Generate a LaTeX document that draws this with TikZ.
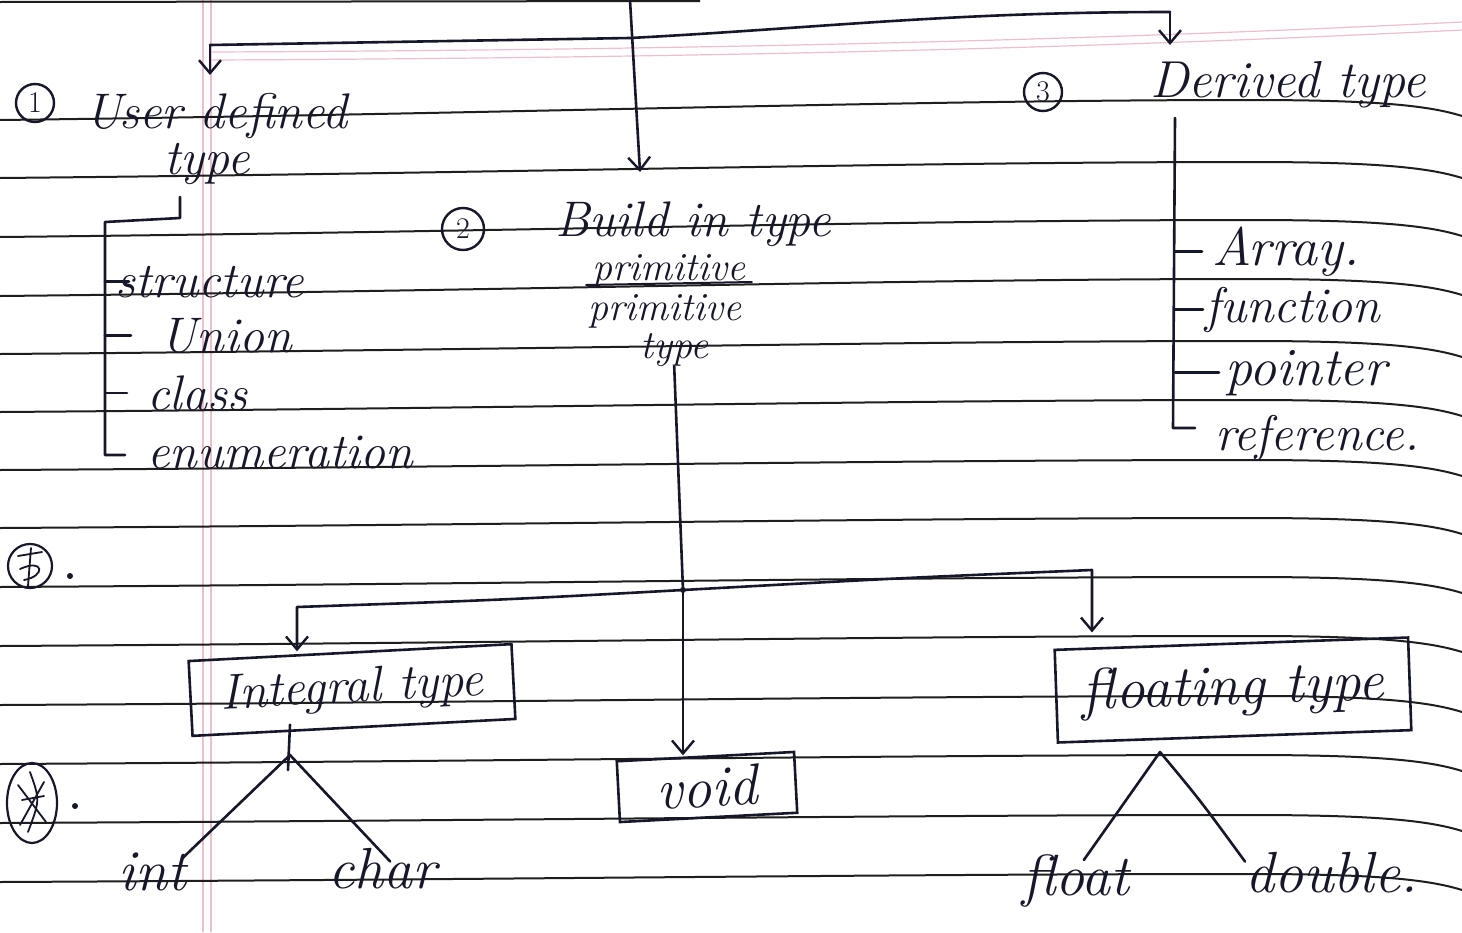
\documentclass[tikz,border=0pt]{standalone}
\usepackage{fontspec}
\usetikzlibrary{arrows.meta,calc}
\definecolor{ink}{HTML}{17172A}
\definecolor{rulecol}{HTML}{1E1E1E}
\definecolor{margin}{HTML}{EDBFCA}
\tikzset{
  hand/.style={font=\fontsize{50}{56}\selectfont\itshape, text=ink, inner sep=0pt},
  bighand/.style={hand, font=\fontsize{58}{64}\selectfont\itshape},
  smallhand/.style={hand, font=\fontsize{40}{44}\selectfont\itshape},
  num/.style={circle, draw=ink, line width=2.4pt, minimum size=38pt, inner sep=0pt,
    font=\fontsize{30}{32}\selectfont, text=ink},
  pen/.style={draw=ink, line width=2.6pt, line cap=round, line join=round},
  penarrow/.style={pen, -{Straight Barb[length=13pt,width=22pt,line width=2.4pt]}},
  typebox/.style={draw=ink, line width=2.6pt, text=ink},
  ruled/.style={draw=rulecol, line width=2pt},
}
\begin{document}
\begin{tikzpicture}[x=1pt, y=-1pt]
\useasboundingbox (0,0) rectangle (1462,932);
\fill[white] (0,0) rectangle (1462,932);

% notebook paper: margin and ruling
\draw[margin, line width=1.2pt] (203,0) -- (203,932) (211,0) -- (211,932);
\draw[margin, line width=1.2pt] (211,52) .. controls (700,50) and (1100,40) .. (1462,22)
                                (211,60) .. controls (700,58) and (1100,48) .. (1462,30);
\draw[ruled] (0,2) -- (700,1);
\foreach \y/\d in {120/20,178/16,237/17,296/17,354/13,412/12,470/10,528/10,587/10,646/10,705/9,764/9,823/8,882/8}
  \draw[ruled] (0,\y) .. controls (500,\y-0.3*\d) and (900,\y-\d) .. (1250,\y-\d)
               .. controls (1380,\y-\d) and (1430,\y-\d+6) .. (1462,\y-\d+16);

% top split into the three kinds of types
\coordinate (topin) at (630,0);
\coordinate (bl) at (210,45);
\coordinate (bm) at (630,38);
\coordinate (br) at (1170,12);
\coordinate (bitop) at (640,172);
\draw[pen] (bl) -- (bm) .. controls (820,28) and (950,12) .. (br);
\draw[penarrow] (bl) -- ++(0,30);
\draw[penarrow] (br) -- ++(0,33);
\draw[penarrow] (topin) -- (bitop);

% 1: user defined type
\node[num] (n1) at (35,103) {1};
\node[hand, anchor=base west] (udt) at (85,128) {User defined};
\node[hand, anchor=base] (udt2) at (207,174) {type};
\node[hand, anchor=base west] (ust) at (115,297) {structure};
\node[hand, anchor=base west] (uun) at (160,352) {Union};
\node[hand, anchor=base west] (ucl) at (147,410) {class};
\node[hand, anchor=base west] (uen) at (147,468) {enumeration};
\coordinate (u0) at (180,197);
\coordinate (u1) at (180,218);
\coordinate (usp) at (105,222);
\coordinate (uend) at (105,455);
\draw[pen] (u0) -- (u1) -- (usp) -- (uend) -- ++(20,0);
\draw[pen] (ust.west -| usp) -- ++(24,0);
\draw[pen] (uun.west -| usp) -- ++(26,0);
\draw[pen] (ucl.west -| usp) -- ++(22,0);

% 2: built-in type
\node[num, minimum size=42pt] (n2) at (463,229) {2};
\node[hand, anchor=base west] (bit) at (555,236) {Build in type};
\node[smallhand, anchor=base west] (strk) at (592,280) {primitive};
\draw[pen, line width=2pt] ([xshift=-6pt,yshift=-5pt]strk.base west) -- ([xshift=6pt,yshift=-2pt]strk.base east);
\node[smallhand, anchor=base west] (prim) at (588,320) {primitive};
\node[smallhand, anchor=base west] (prim2) at (640,358) {type};
\coordinate (J) at (683,590);
\draw[pen] (prim2.south) -- (J);

% the three kinds of built-in types
\node[typebox, hand, rotate=3, inner xsep=30pt, inner ysep=15pt] (ib) at (352,690) {Integral type};
\node[typebox, bighand, rotate=3, inner xsep=38pt, inner ysep=10pt] (vb) at (707,787) {void};
\node[typebox, bighand, rotate=2, inner xsep=26pt, inner ysep=20pt] (fb) at (1233,690) {floating type};
\coordinate (il) at (297,607);
\coordinate (fr) at (1092,570);
\fill[ink] (J) circle (3);
\draw[penarrow] (J) -- (J |- vb.north);
\draw[penarrow] (J) .. controls (500,600) .. (il) -- (il |- ib.north);
\draw[penarrow] (J) .. controls (900,578) .. (fr) -- ([yshift=10pt]fr |- fb.north);

% integral type: int, char
\node[bighand, anchor=base west] (int) at (118,890) {int};
\node[bighand, anchor=base west] (chr) at (328,888) {char};
\coordinate (iv) at (290,755);
\draw[pen] ([yshift=4pt]iv |- ib.south) -- (288,770);
\draw[pen] ([xshift=-4pt,yshift=-6pt]int.north east) -- (iv) -- ([xshift=8pt,yshift=-14pt]chr.north);

% floating type: float, double
\node[bighand, anchor=base west] (flt) at (1022,895) {float};
\node[bighand, anchor=base west] (dbl) at (1245,892) {double.};
\coordinate (fv) at (1160,752);
\draw[pen] ([xshift=8pt,yshift=-6pt]flt.north) -- (fv) .. controls (1200,800) .. ([yshift=-10pt]dbl.north west);

% 3: derived type
\node[num] (n3) at (1043,92) {3};
\node[hand, anchor=base west, font=\fontsize{52}{56}\selectfont\itshape] (der) at (1150,97) {Derived type};
\node[hand, anchor=base west, font=\fontsize{54}{58}\selectfont\itshape] (arr) at (1212,265) {Array.};
\node[hand, anchor=base west] (fun) at (1205,322) {function};
\node[hand, anchor=base west, font=\fontsize{54}{58}\selectfont\itshape] (ptr) at (1225,385) {pointer};
\node[hand, anchor=base west] (ref) at (1215,450) {reference.};
\coordinate (dtop) at (1175,118);
\coordinate (dbot) at (1173,428);
\draw[pen] (dtop) -- (dbot) -- ++(22,0);
\draw[pen] (dtop |- arr.west) -- ([xshift=-10pt]arr.west);
\draw[pen] (dtop |- fun.west) -- ([xshift=-2pt]fun.west);
\draw[pen] (dtop |- ptr.west) -- ([xshift=-6pt]ptr.west);

% scribbled-out item numbers in the margin
\draw[pen, line width=2.2pt] (30,566) circle (22);
\draw[pen, line width=1.8pt] (18,556) -- (42,552) (31,548) -- (28,586) (20,569) .. controls (44,558) and (46,576) .. (24,580);
\fill[ink] (70,576) circle (3);
\draw[pen, line width=2.2pt] (32,803) ellipse (25 and 40);
\draw[pen, line width=1.8pt] (18,785) -- (46,822) (44,782) -- (20,825) (22,800) -- (44,796) (30,772) .. controls (40,800) .. (28,832);
\fill[ink] (75,806) circle (3);
\end{tikzpicture}
\end{document}
